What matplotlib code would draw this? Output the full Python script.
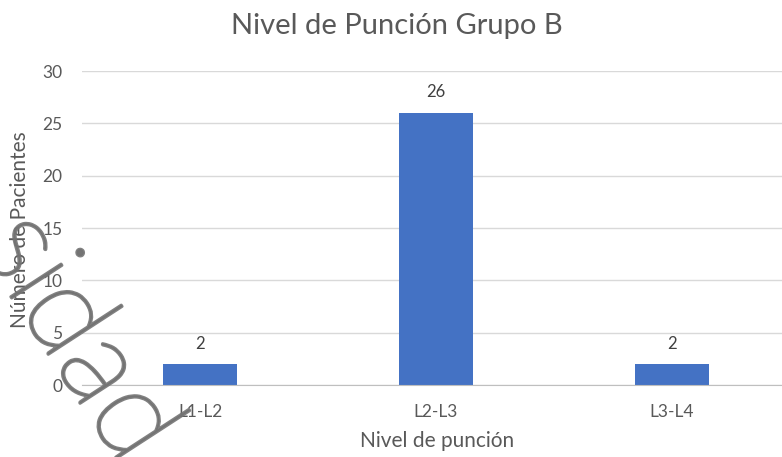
import matplotlib
matplotlib.use("Agg")
import matplotlib.pyplot as plt
import matplotlib.patheffects as pe

# chart data
niveles = ["L1-L2", "L2-L3", "L3-L4"]
pacientes = [2, 26, 2]
y_ticks = [0, 5, 10, 15, 20, 25, 30]

plt.rcParams['font.family'] = ['Lato', 'DejaVu Sans']
gris = '#595959'
azul = '#4472C4'

fig = plt.figure(figsize=(7.82, 4.57), dpi=100)
W, H = 782, 457
# plot area in pixels: left 82, right 790 (runs past the edge), top 71, bottom 385
ax = fig.add_axes([82 / W, (H - 385) / H, (790 - 82) / W, (385 - 71) / H])

x = list(range(len(niveles)))
bars = ax.bar(x, pacientes, width=0.31, color=azul, zorder=3)
for xi, v in zip(x, pacientes):
    ax.text(xi, v + 1.2, str(v), ha='center', va='bottom', fontsize=12, color='#404040')

ax.set_xlim(-0.5, 2.5)
ax.set_ylim(0, 30)
ax.set_yticks(y_ticks)
ax.set_xticks(x)
ax.set_xticklabels(niveles)
ax.tick_params(axis='both', length=0, colors=gris, labelsize=12.5)
ax.tick_params(axis='y', pad=14)
ax.tick_params(axis='x', pad=14)
ax.grid(axis='y', color='#D9D9D9', linewidth=1, zorder=0)
for s in ['top', 'right', 'left']:
    ax.spines[s].set_visible(False)
ax.spines['bottom'].set_color('#BFBFBF')
ax.spines['bottom'].set_zorder(4)

fig.text(397 / W, 1 - 26 / H, "Nivel de Punción Grupo B", ha='center', va='center',
         fontsize=21, color=gris)
fig.text(437 / W, 1 - 441 / H, "Nivel de punción", ha='center', va='center',
         fontsize=15, color=gris)
fig.text(20 / W, 1 - 230 / H, "Número de Pacientes", ha='center', va='center',
         rotation=90, fontsize=15, color=gris)

# watermark across the lower left corner (thin font thickened with a stroke)
marca = '#737373'
fig.text(77 / W, 1 - 338 / H, "sidad", ha='center', va='center', rotation=-57,
         rotation_mode='anchor', fontsize=88, fontweight='light',
         color=marca, alpha=0.9, zorder=10,
         path_effects=[pe.withStroke(linewidth=2.2, foreground=marca)])

fig.savefig("out.png", dpi=100, facecolor='white')
